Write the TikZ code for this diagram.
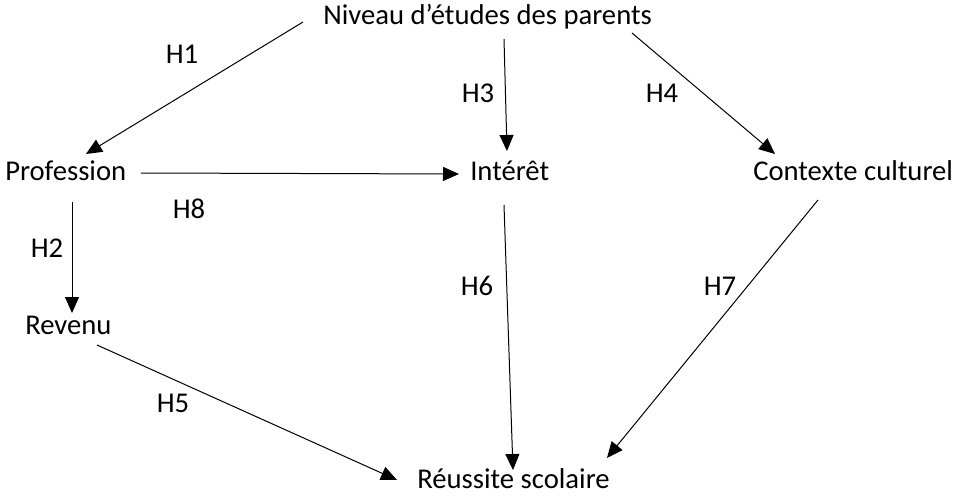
\documentclass[tikz,border=0pt]{standalone}
\usepackage{fontspec}
\setmainfont{Carlito}
\usetikzlibrary{arrows.meta}
\begin{document}
\begin{tikzpicture}[x=0.75pt,y=-0.75pt,
  txt/.style={inner sep=0pt,anchor=base west,font=\fontsize{21.5}{26}\selectfont},
  lbl/.style={inner sep=0pt,anchor=base,font=\fontsize{21.5}{26}\selectfont},
  arr/.style={line width=0.75pt,-{Triangle[length=12pt,width=10.5pt]}}]
\useasboundingbox (0,0) rectangle (958,496);
\node[txt] (niv)  at (323,25)  {Niveau d’études des parents};
\node[txt] (prof) at (5,180)   {Profession};
\node[txt] (int)  at (470,180) {Intérêt};
\node[txt] (ctx)  at (753,180) {Contexte culturel};
\node[txt] (rev)  at (25,334)  {Revenu};
\node[txt] (reu)  at (417,488) {Réussite scolaire};
% connectors
\draw[arr] ([shift={(-20,-3)}]niv.base west) -- ([shift={(81,-26)}]prof.base west);
\draw[arr] ([shift={(181,14)}]niv.base west) -- ([shift={(37,-29)}]int.base west);
\draw[arr] ([shift={(309,8)}]niv.base west) -- ([shift={(22,-26)}]ctx.base west);
\draw[arr] ([shift={(136,-7)}]prof.base west) -- ([shift={(-11,-6)}]int.base west);
\draw[arr] ([shift={(67,22)}]prof.base west) -- ([shift={(47,-21)}]rev.base west);
\draw[arr] ([shift={(34,25)}]int.base west) -- ([shift={(96,-18)}]reu.base west);
\draw[arr] ([shift={(65,20)}]ctx.base west) -- ([shift={(190,-30)}]reu.base west);
\draw[arr] ([shift={(72,11)}]rev.base west) -- ([shift={(-20,-8)}]reu.base west);
% labels
\node[lbl] (h1) at (182,63)  {H1};
\node[lbl] (h3) at (478,102) {H3};
\node[lbl] (h4) at (662,102) {H4};
\node[lbl] (h8) at (189,218) {H8};
\node[lbl] (h2) at (47,257)  {H2};
\node[lbl] (h6) at (477,295) {H6};
\node[lbl] (h7) at (720,295) {H7};
\node[lbl] (h5) at (173,412) {H5};
\end{tikzpicture}
\end{document}
